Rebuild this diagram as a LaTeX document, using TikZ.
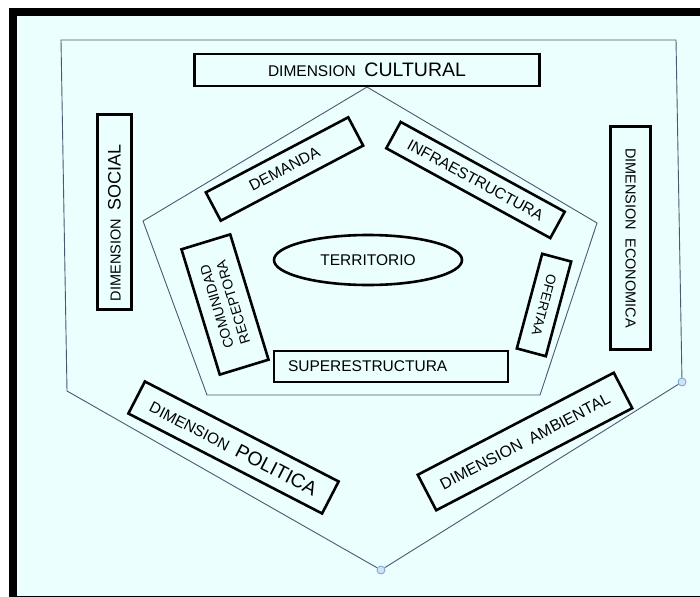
\documentclass[tikz,border=0pt]{standalone}
\usepackage{fontspec}
\setmainfont{Liberation Sans}
\usetikzlibrary{shapes.geometric}
\definecolor{bgcyan}{RGB}{235,255,255}
\definecolor{edgegray}{RGB}{75,88,112}
\definecolor{handleblue}{RGB}{120,160,205}
\definecolor{handlefill}{RGB}{205,228,248}
\newcommand{\txtsz}[1]{\fontsize{#1}{#1}\selectfont}

\begin{document}
\begin{tikzpicture}[x=1pt,y=-1pt]
	\tikzstyle{every node}=[font=\txtsz{15.5}]
	\tikzstyle{dimbox}=[draw=black, line width=2.6pt, fill=bgcyan, inner sep=0pt, align=center]
	\tikzstyle{edge}=[draw=edgegray, line width=0.9pt]
	\tikzstyle{handle}=[circle, draw=handleblue, fill=handlefill, line width=0.8pt, minimum size=8pt, inner sep=0pt]
	
	%%frame
	\useasboundingbox (0,0) rectangle (700,596);
	\fill [white] (0,0) rectangle (700,596);
	\draw [line width=8pt, fill=bgcyan] (13,12.5) rectangle (712,600);
	
	%%outer pentagon
	\coordinate (otl) at (61,40);
	\coordinate (otr) at (676,40);
	\coordinate (obl) at (67,391);
	\node [handle] (ohr) at (682,382) {};
	\node [handle] (ohb) at (381,570) {};
	\draw [edge] (ohb) -- (obl) -- (otl) -- (otr) -- (ohr) -- (ohb);
	
	%%inner pentagon
	\coordinate (itop) at (367,87);
	\coordinate (iright) at (597,223);
	\coordinate (ibr) at (540,395);
	\coordinate (ibl) at (207,395);
	\coordinate (ileft) at (143,221);
	\draw [edge] (itop) -- (iright) -- (ibr) -- (ibl) -- (ileft) -- cycle;
	
	%%dimensions
	\node [dimbox, minimum width=345pt, minimum height=32pt] (cultural) at (367,70) {DIMENSION~~{\txtsz{19.5}CULTURAL}};
	\node [dimbox, rotate=90, minimum width=195pt, minimum height=34.5pt, font=\txtsz{14.5}] (social) at (114.5,212) {DIMENSION~~{\txtsz{18}SOCIAL}\hspace{22pt}};
	\node [dimbox, rotate=-90, minimum width=223pt, minimum height=40pt, font=\txtsz{14.5}] (economica) at (630.5,238) {DIMENSION~~ECONOMICA};
	\node [dimbox, rotate=-27.3, minimum width=218pt, minimum height=36pt] (politica) at (233.5,447.5) {DIMENSION~~{\txtsz{19.5}POLITICA}};
	\node [dimbox, rotate=27.5, minimum width=221pt, minimum height=40pt, font=\txtsz{16}] (ambiental) at (525,441.5) {DIMENSION~~AMBIENTAL};
	
	%%inner boxes
	\node [dimbox, rotate=27.8, minimum width=161pt, minimum height=32pt] (demanda) at (284.5,169) {DEMANDA};
	\node [dimbox, rotate=-28.7, minimum width=187pt, minimum height=30pt] (infra) at (475.5,180) {INFRAESTRUCTURA};
	\node [dimbox, rotate=107, minimum width=131pt, minimum height=51pt, font=\txtsz{14}] (comunidad) at (225,304.5) {COMUNIDAD\\[3pt]RECEPTORA};
	\node [dimbox, rotate=-105, minimum width=98pt, minimum height=30pt, font=\txtsz{13.5}] (oferta) at (544,305) {OFERTAA};
	\node [dimbox, minimum height=31pt, text width=206pt, inner xsep=14pt, align=left] (superest) at (391,366.5) {SUPERESTRUCTURA};
	
	%%centre
	\node [dimbox, ellipse, minimum width=188pt, minimum height=50pt] (territorio) at (368,260) {TERRITORIO};
	
\end{tikzpicture}
\end{document}
